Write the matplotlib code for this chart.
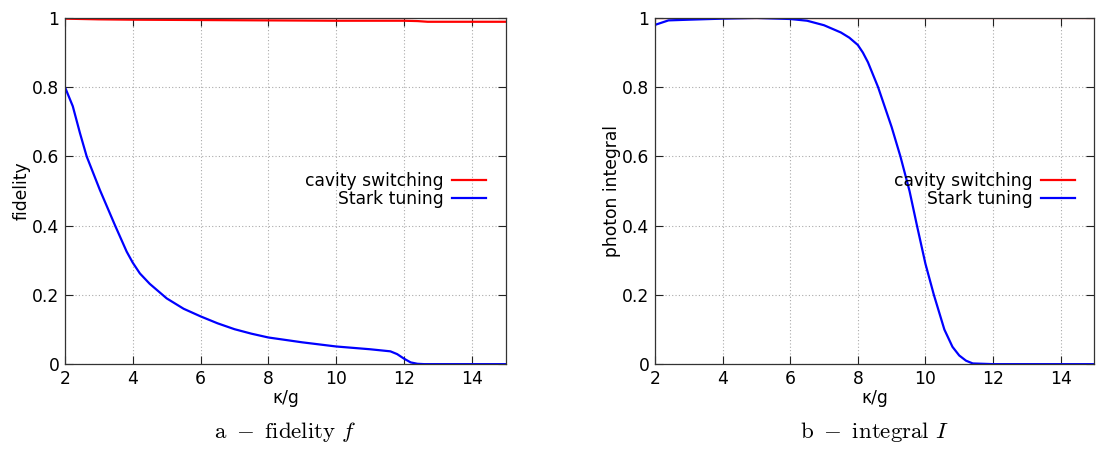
import matplotlib
matplotlib.use('Agg')
import matplotlib.pyplot as plt

plt.rcParams['mathtext.fontset'] = 'cm'

# panel a - fidelity
kg_fid_red = [2, 3, 4, 6, 8, 10, 12, 12.4, 12.7, 15]
fid_red = [0.998, 0.996, 0.995, 0.994, 0.993, 0.992, 0.992, 0.991, 0.989, 0.989]
kg_fid_blue = [2, 2.23, 2.44, 2.64, 3.03, 3.48, 3.82, 4, 4.21, 4.5, 5, 5.5, 6,
               6.5, 7, 7.5, 8, 9, 10, 11, 11.6, 11.8, 12.0, 12.2, 12.4, 12.6, 15]
fid_blue = [0.80, 0.745, 0.668, 0.60, 0.503, 0.40, 0.325, 0.293, 0.262, 0.232,
            0.19, 0.16, 0.138, 0.118, 0.101, 0.088, 0.077, 0.063, 0.051, 0.043,
            0.037, 0.029, 0.016, 0.005, 0.001, 0.0, 0.0]

# panel b - photon integral
kg_int_red = [2, 15]
int_red = [1.0, 1.0]
kg_int_blue = [2, 2.4, 3, 4, 5, 6, 6.5, 7, 7.5, 7.75, 8, 8.15, 8.3, 8.6, 9,
               9.26, 9.53, 9.75, 10, 10.25, 10.56, 10.8, 11, 11.2, 11.4, 12, 15]
int_blue = [0.98, 0.993, 0.995, 0.998, 1.0, 0.997, 0.992, 0.979, 0.958, 0.943,
            0.922, 0.90, 0.872, 0.80, 0.685, 0.60, 0.50, 0.40, 0.29, 0.20, 0.10,
            0.05, 0.025, 0.01, 0.002, 0.0, 0.0]

xticks = [2, 4, 6, 8, 10, 12, 14]
yticks = [0, 0.2, 0.4, 0.6, 0.8, 1]
ytick_labels = ['0', '0.2', '0.4', '0.6', '0.8', '1']

fig = plt.figure(figsize=(10.96, 4.49), dpi=100)
ax1 = fig.add_axes([0.0593, 0.189, 0.402, 0.771])
ax2 = fig.add_axes([0.5976, 0.189, 0.401, 0.771])

panels = [
    (ax1, kg_fid_red, fid_red, kg_fid_blue, fid_blue, 'fidelity',
     r'$\mathrm{a}\ -\ \mathrm{fidelity}\ f$'),
    (ax2, kg_int_red, int_red, kg_int_blue, int_blue, 'photon integral',
     r'$\mathrm{b}\ -\ \mathrm{integral}\ I$'),
]

for ax, xr, yr, xb, yb, ylab, cap in panels:
    ax.plot(xr, yr, color='#ff0000', lw=1.6, label='cavity switching')
    ax.plot(xb, yb, color='#0000ff', lw=1.6, label='Stark tuning')
    ax.set_xlim(2, 15)
    ax.set_ylim(0, 1)
    ax.set_xticks(xticks)
    ax.set_yticks(yticks)
    ax.set_yticklabels(ytick_labels)
    ax.tick_params(direction='in', top=True, right=True, length=6, labelsize=12.3,
                   pad=4, color='#222222')
    ax.grid(True, color='#aaaaaa', linestyle=(0, (1, 2)), lw=0.8)
    for s in ax.spines.values():
        s.set_color('#333333')
        s.set_linewidth(0.9)
    ax.set_xlabel('κ/g', fontsize=12.3, labelpad=1)
    ax.set_ylabel(ylab, fontsize=12.3, labelpad=1)
    ax.legend(loc='center right', bbox_to_anchor=(0.975, 0.503), frameon=False,
              markerfirst=False, fontsize=12.3, handlelength=2.0, handletextpad=0.5,
              labelspacing=0.0, borderpad=0)
    ax.text(0.5, -0.197, cap, transform=ax.transAxes, ha='center', va='center',
            fontsize=16.5)

fig.savefig('out.png', dpi=100)
